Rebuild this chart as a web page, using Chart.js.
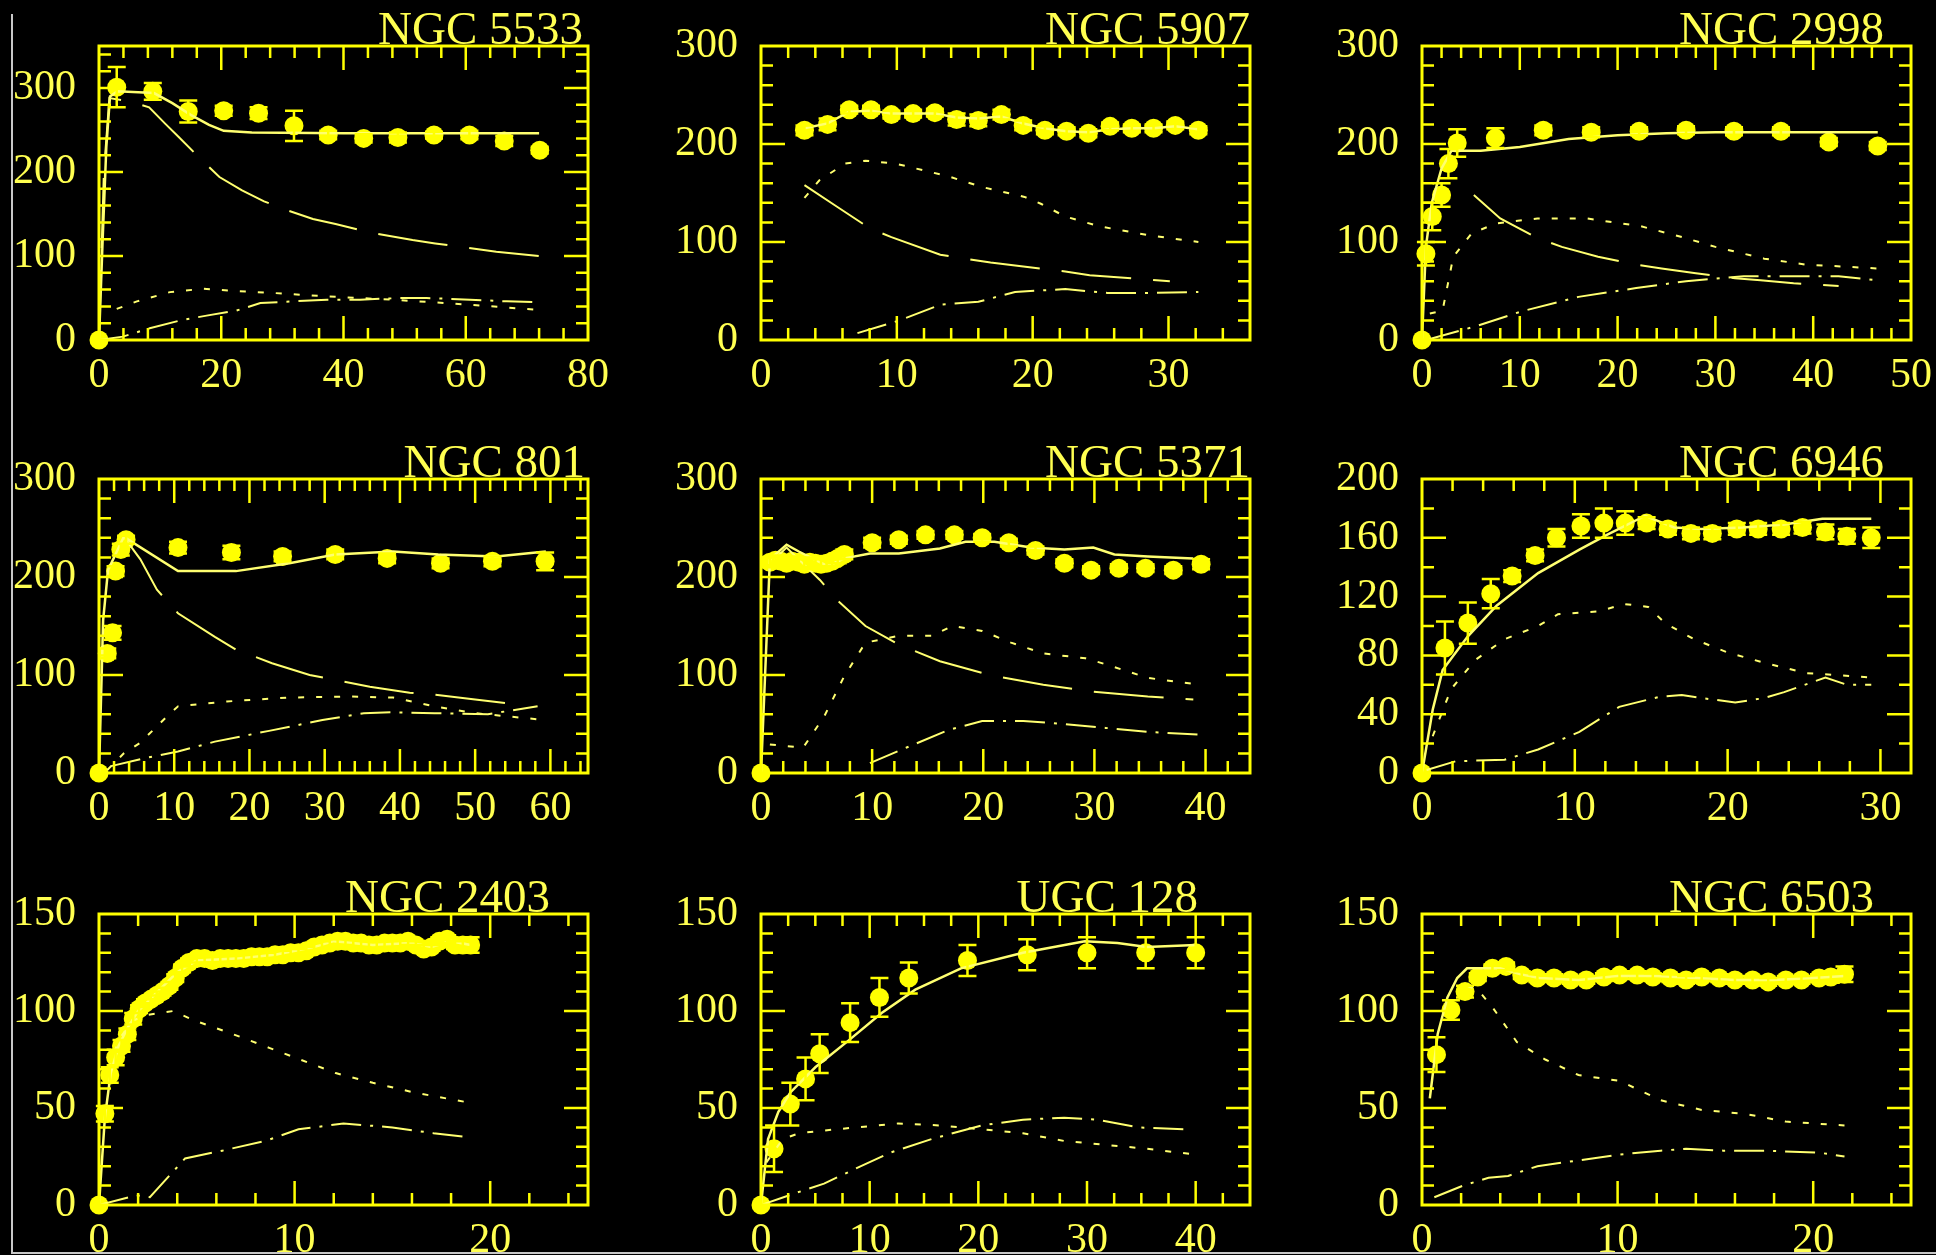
<!DOCTYPE html>
<html>
<head>
<meta charset="utf-8">
<title>Rotation curves</title>
<script src="https://cdn.jsdelivr.net/npm/chart.js@4.4.1/dist/chart.umd.min.js"></script>
<style>
  html, body { margin: 0; padding: 0; background: #000; width: 1936px; height: 1255px; overflow: hidden; }
  .panel { position: absolute; }
  #edge { position: absolute; left: 11px; top: 14px; width: 1925px; height: 1238px;
          border-left: 2px solid #c8c8c8; border-bottom: 2px solid #c8c8c8; }
</style>
</head>
<body>
<div id="edge"></div>
<div id="wrap"></div>
<script>
// ---- tick labels ----
const xTicks80 = [0, 20, 40, 60, 80];
const xTicks30 = [0, 10, 20, 30];
const xTicks50 = [0, 10, 20, 30, 40, 50];
const xTicks60 = [0, 10, 20, 30, 40, 50, 60];
const xTicks40 = [0, 10, 20, 30, 40];
const xTicks20 = [0, 10, 20];
const yTicks300 = [0, 100, 200, 300];
const yTicks200 = [0, 40, 80, 120, 160, 200];
const yTicks150 = [0, 50, 100, 150];

// ---- NGC 5533 ----
const r5533 = [0, 2.9, 8.8, 14.6, 20.4, 26.1, 31.9, 37.5, 43.3, 48.9, 54.8, 60.6, 66.3, 72.1];
const v5533 = [0, 301, 296, 272, 273, 270, 255, 244, 240, 241, 244, 244, 237, 226];
const e5533 = [0, 24, 10, 13, 6, 7, 18, 5, 5, 6, 4, 5, 6, 4];
const fit5533R = [0, 0.6, 1.2, 1.8, 3, 9, 12, 15, 18, 20.4, 25, 40, 55, 72];
const fit5533V = [0, 120, 230, 290, 296, 294, 282, 268, 256, 249, 247, 246, 246, 246];
const bul5533R = [0, 0.8, 1.7, 5, 8.2, 10.9, 13, 16, 19.7, 23.4, 27, 31, 35, 38.7, 45, 51.3, 55, 60, 65, 72];
const bul5533V = [0, 200, 288, 284, 277, 257, 242, 220, 194, 178, 165, 154, 144, 138, 127, 119, 115, 110, 105, 100];
const disk5533R = [2.9, 6.2, 11.6, 17, 23, 28.5, 37, 48, 60.7, 71.6];
const disk5533V = [37, 46, 57, 61, 58, 56, 52, 48, 42, 36];
const gas5533R = [0, 3.9, 8.3, 13.7, 17.6, 22.5, 26.4, 31.8, 37.3, 42.7, 49.3, 53.6, 60.7, 66.7, 72];
const gas5533V = [0, 4, 14, 24, 29, 35, 44, 46, 48, 48, 50, 50, 48, 46, 45];

// ---- NGC 5907 ----
const r5907 = [3.2, 4.9, 6.5, 8.1, 9.6, 11.2, 12.8, 14.4, 16.0, 17.7, 19.3, 20.9, 22.5, 24.1, 25.7, 27.3, 28.9, 30.5, 32.2];
const v5907 = [214, 220, 235, 235, 230, 231, 232, 225, 224, 230, 219, 214, 213, 211, 218, 216, 216, 219, 214];
const e5907 = [5, 6, 4, 4, 4, 4, 4, 6, 6, 5, 5, 4, 4, 4, 4, 4, 4, 4, 4];
const fit5907R = [3.2, 4.9, 6.5, 8.1, 9.6, 11.2, 12.8, 14.4, 16.0, 17.7, 19.3, 20.9, 22.5, 24.1, 25.7, 27.3, 28.9, 30.5, 32.2];
const fit5907V = [216, 221, 233, 234, 231, 231, 231, 227, 226, 228, 221, 216, 213, 212, 215, 216, 216, 218, 215];
const bul5907R = [3.2, 5.6, 8.0, 9.6, 13.2, 16.9, 22.4, 24.2, 30.1];
const bul5907V = [158, 136, 114, 105, 87, 79, 70, 66, 60];
const disk5907R = [3.2, 4.3, 6.2, 7.7, 9.9, 11.4, 13.8, 16.3, 19.4, 20.6, 22.4, 24.9, 28.5, 32.2];
const disk5907V = [145, 163, 180, 183, 180, 175, 167, 156, 146, 139, 126, 116, 107, 100];
const gas5907R = [7.1, 10.2, 13.2, 16.0, 18.7, 22.4, 25.5, 28.5, 32.2];
const gas5907V = [7, 20, 36, 39, 49, 52, 48, 48, 49];

// ---- NGC 2998 ----
const r2998 = [0, 0.4, 1.05, 2.0, 2.7, 3.6, 7.5, 12.4, 17.3, 22.2, 27.0, 31.9, 36.7, 41.6, 46.6];
const v2998 = [0, 88, 126, 148, 180, 201, 206, 214, 212, 213, 214, 213, 213, 202, 198];
const e2998 = [0, 12, 14, 12, 15, 14, 10, 5, 5, 4, 4, 4, 4, 4, 4];
const fit2998R = [0, 0.4, 1, 2, 3, 4, 6, 10, 15, 20, 25, 30, 40, 46.6];
const fit2998V = [0, 95, 140, 175, 193, 193, 193, 197, 205, 209, 211, 212, 212, 212];
const bul2998R = [5.3, 8, 11.8, 14.3, 18, 21.9, 24.5, 28, 32, 34.6, 38, 42.6];
const bul2998V = [148, 124, 104, 95, 85, 77, 73, 68, 63, 61, 58, 55];
const disk2998R = [0.8, 2.1, 3.2, 5.1, 7.6, 11.8, 16.9, 22.4, 26.6, 30, 35, 39.2, 46.6];
const disk2998V = [27, 30, 85, 109, 119, 124, 124, 116, 105, 95, 83, 77, 73];
const gas2998R = [0.8, 5.5, 10.1, 16, 21.9, 27, 32.9, 37.1, 42.6, 46.6];
const gas2998V = [1, 14, 29, 44, 53, 60, 65, 65, 65, 61];

// ---- NGC 801 ----
const r801 = [0, 1.1, 1.8, 2.2, 2.9, 3.6, 10.5, 17.6, 24.4, 31.4, 38.3, 45.4, 52.3, 59.3];
const v801 = [0, 122, 143, 206, 228, 238, 230, 225, 221, 223, 219, 214, 216, 216];
const e801 = [0, 5, 7, 5, 6, 4, 6, 7, 5, 5, 5, 5, 5, 9];
const fit801R = [0, 0.55, 1.2, 3.3, 10.5, 18.2, 25.3, 31.4, 39.1, 45.1, 52.8, 59.4];
const fit801V = [0, 156, 207, 241, 206, 206, 214, 223, 226, 223, 221, 226];
const bul801R = [3.3, 5.5, 7.7, 10.5, 15.4, 18.2, 23, 28, 30.8, 36, 41.3, 44.6, 50, 54.5];
const bul801V = [241, 218, 187, 163, 139, 126, 112, 100, 96, 88, 82, 80, 75, 71];
const disk801R = [1.1, 3.3, 5.5, 8.8, 10.5, 17, 25.3, 33.6, 39.1, 44.6, 50, 59.4];
const disk801V = [3, 20, 31, 56, 68, 73, 77, 78, 77, 68, 61, 54];
const gas801R = [1.6, 6, 10.5, 15.4, 22.6, 29.7, 35.2, 39.1, 44.6, 51.7, 58.3];
const gas801V = [7, 15, 22, 32, 43, 54, 61, 62, 61, 60, 68];

// ---- NGC 5371 ----
const r5371 = [0, 0.8, 1.3, 1.8, 2.3, 2.8, 3.4, 3.9, 4.4, 4.9, 5.4, 5.9, 6.4, 6.9, 7.5, 10, 12.4, 14.8, 17.4, 19.9, 22.3, 24.7, 27.3, 29.7, 32.2, 34.6, 37.1, 39.6];
const v5371 = [0, 215, 217, 216, 214, 216, 215, 213, 215, 214, 213, 214, 216, 219, 223, 235, 238, 243, 243, 240, 235, 227, 214, 207, 209, 209, 207, 213];
const e5371 = [0, 5, 5, 5, 5, 5, 5, 5, 5, 5, 5, 5, 5, 5, 5, 5, 4, 4, 4, 4, 4, 4, 4, 4, 4, 4, 4, 5];
const fit5371R = [0, 0.8, 2.3, 3.4, 6, 7.5, 9.8, 12.4, 16.1, 18.4, 21, 24.3, 27.3, 29.9, 31.8, 34.8, 38.9];
const fit5371V = [0, 218, 233, 226, 211, 219, 224, 224, 229, 236, 236, 230, 228, 230, 223, 221, 219];
const bul5371R = [1.2, 2.3, 5.3, 6.8, 9.4, 12.4, 16.1, 20.6, 25.4, 29.9, 34.8, 38.9];
const bul5371V = [218, 230, 197, 177, 150, 131, 114, 100, 90, 83, 78, 75];
const disk5371R = [0.8, 3.8, 5.7, 7.5, 9.4, 12.4, 15.4, 17.2, 19.9, 22.5, 25.4, 29.2, 31, 34.8, 39.6];
const disk5371V = [29, 26, 58, 99, 133, 140, 140, 150, 145, 133, 122, 117, 111, 97, 90];
const gas5371R = [9.8, 13.1, 16.9, 19.9, 23.6, 27.3, 31, 34.8, 39.6];
const gas5371V = [10, 26, 44, 53, 53, 50, 46, 42, 39];

// ---- NGC 6946 ----
const r6946 = [0, 1.5, 3.0, 4.5, 5.9, 7.4, 8.8, 10.4, 11.9, 13.3, 14.7, 16.1, 17.6, 19, 20.6, 22, 23.5, 24.9, 26.4, 27.8, 29.4];
const v6946 = [0, 85, 102, 122, 134, 148, 160, 168, 170, 170, 170, 166, 163, 163, 166, 166, 166, 167, 164, 161, 160];
const e6946 = [0, 18, 14, 10, 4, 4, 6, 8, 10, 8, 4, 4, 4, 4, 4, 4, 4, 4, 5, 5, 7];
const fit6946R = [0, 0.7, 1.35, 3, 4.9, 7.6, 10.3, 12.1, 14.6, 16.5, 18.3, 21, 23.7, 26.2, 29.4];
const fit6946V = [0, 43, 70, 93, 114, 136, 152, 162, 175, 167, 166, 167, 169, 173, 173];
const disk6946R = [0.7, 1.9, 3.5, 5.4, 7.6, 8.9, 11.6, 13.2, 14.8, 15.9, 17.8, 20, 22.4, 25.1, 29.4];
const disk6946V = [25, 57, 77, 91, 100, 108, 110, 115, 113, 102, 91, 82, 75, 68, 65];
const gas6946R = [0.3, 2.2, 5.4, 7.6, 10.3, 12.9, 15.6, 17, 18.3, 20.5, 22.4, 23.7, 26.4, 27.8, 29.4];
const gas6946V = [2, 8, 9, 16, 28, 45, 52, 53, 51, 48, 51, 55, 65, 60, 60];

// ---- NGC 2403 ----
const r2403 = [0, 0.3, 0.55, 0.85, 1.15, 1.45, 1.75, 2.05, 2.35, 2.65, 2.95, 3.25, 3.6, 3.9, 4.25, 4.6, 5.0, 5.4, 5.8, 6.2,
               6.6, 7.0, 7.4, 7.8, 8.2, 8.6, 9.0, 9.4, 9.8, 10.2, 10.6, 11.0, 11.4, 11.8, 12.2, 12.6, 13.0, 13.4, 13.8, 14.2,
               14.6, 15.0, 15.4, 15.8, 16.2, 16.6, 17.0, 17.4, 17.8, 18.2, 18.6, 19.0];
const v2403 = [0, 47, 67, 76, 82, 88, 96, 101, 104, 106, 108, 110, 113, 117, 122, 125, 127, 127, 126, 127,
               127, 127, 127, 128, 128, 128, 129, 129, 130, 130, 131, 133, 134, 135, 136, 136, 135, 135, 134, 134,
               135, 135, 135, 136, 134, 132, 133, 136, 137, 134, 134, 134];
const e2403 = [0, 4, 4, 4, 3, 3, 3, 2, 2, 2, 2, 2, 2, 2, 2, 2, 2, 2, 2, 2,
               2, 2, 2, 2, 2, 2, 2, 2, 2, 2, 2, 2, 2, 2, 2, 2, 2, 2, 2, 2,
               2, 2, 2, 2, 2, 2, 2, 2, 2, 2, 3, 4];
const fit2403R = [0, 0.3, 0.6, 1, 1.5, 2, 3, 4, 5, 7, 9, 11, 12, 14, 16, 17, 18, 19];
const fit2403V = [0, 45, 68, 82, 92, 100, 110, 120, 126, 127, 129, 133, 136, 134, 135, 133, 136, 134];
const disk2403R = [0.5, 1, 1.7, 2.5, 3.8, 4.9, 6.6, 8.7, 10.8, 12.1, 14, 16.1, 18.8];
const disk2403V = [70, 85, 95, 98, 100, 95, 89, 81, 73, 68, 63, 58, 53];
const gas2403R = [0, 1.9, 2.6, 4.4, 6.3, 8.5, 10.2, 12.5, 15, 17.1, 18.8];
const gas2403V = [0, 5, 4, 24, 28, 33, 39, 42, 40, 37, 35];

// ---- UGC 128 ----
const r128 = [0, 1.2, 2.7, 4.1, 5.4, 8.2, 10.9, 13.6, 19, 24.5, 30, 35.4, 40];
const v128 = [0, 29, 52, 65, 78, 94, 107, 117, 126, 129, 130, 130, 130];
const e128 = [0, 12, 11, 11, 10, 10, 10, 8, 8, 8, 8, 8, 8];
const fit128R = [0, 0.65, 1.6, 2.7, 5, 8.1, 11.1, 14.2, 18.4, 24.1, 29.8, 32.8, 35.5, 40];
const fit128V = [0, 34, 48, 58, 71, 85, 99, 111, 122, 130, 136, 135, 133, 134];
const disk128R = [0.5, 2, 3.5, 6.9, 12.6, 16.5, 20.3, 24.1, 27.9, 31.7, 35.5, 40];
const disk128V = [22, 34, 37, 39, 42, 41, 39, 37, 33, 31, 29, 26];
const gas128R = [0, 3.1, 5.8, 8.8, 11.9, 15.7, 20.3, 24.1, 27.9, 30.9, 34.7, 39.3];
const gas128V = [0, 6, 11, 19, 27, 34, 41, 44, 45, 44, 40, 39];

// ---- NGC 6503 ----
const r6503 = [0.74, 1.48, 2.2, 2.85, 3.6, 4.3, 5.1, 5.9, 6.75, 7.6, 8.4, 9.3, 10.1, 11, 11.8, 12.7, 13.5, 14.3, 15.2, 16, 16.9, 17.7, 18.6, 19.4, 20.3, 20.9, 21.6];
const v6503 = [77.5, 100.5, 110, 117.5, 122, 123, 118.5, 117, 117, 116, 116, 117.5, 118.5, 118.5, 117.5, 117, 116, 117.5, 117, 116, 116, 115, 116, 116, 117, 117.5, 119];
const e6503 = [9, 5, 3, 2, 2, 2, 2, 2, 2, 2, 2, 2, 2, 2, 2, 2, 2, 2, 2, 2, 2, 2, 2, 2, 2, 3, 4];
const fit6503R = [0.4, 0.8, 1.3, 1.8, 2.3, 3, 4, 5, 6, 8, 10, 12, 14, 16, 18, 20, 21.6];
const fit6503V = [55, 88, 107, 117, 122, 122, 122, 119, 117, 116, 118, 118, 117, 116, 116, 117, 118];
const disk6503R = [2.3, 2.85, 3.6, 4.85, 6.3, 8, 10.1, 12.2, 14.3, 16.5, 18.6, 21.6];
const disk6503V = [113, 111, 102, 84, 75, 67, 64, 54, 49, 47, 43, 41];
const gas6503R = [0.63, 2.1, 3.4, 4.4, 5.9, 8, 10.1, 12.2, 13.5, 15.4, 17.5, 20.3, 21.6];
const gas6503V = [4, 10, 14, 15, 20, 23, 26, 28, 29, 28, 28, 27, 25];

// ---- look ----
const YELLOW = '#ffff00';
const LINE = '#ffff70';
const TEXT = '#ffff50';
const FONT = 'Liberation Serif';

const AXIS_W = 95, AXIS_H = 70, PAD_T = 60, PAD_R = 50;
const BOX_W = 489;
const colLeft = [99, 761, 1422];
const rowTop = [46, 479, 914];
const rowH = [294, 294, 291];

const panels = [
  { name: 'NGC 5533', obs: [r5533, v5533, e5533], fit: [fit5533R, fit5533V], bulge: [bul5533R, bul5533V], disk: [disk5533R, disk5533V], gas: [gas5533R, gas5533V],
    xMax: 80, xTicks: xTicks80, xMinor: 4, yMax: 350, yTicks: yTicks300, yMinor: 20, row: 0, col: 0, inset: 5 },
  { name: 'NGC 5907', obs: [r5907, v5907, e5907], fit: [fit5907R, fit5907V], bulge: [bul5907R, bul5907V], disk: [disk5907R, disk5907V], gas: [gas5907R, gas5907V],
    xMax: 36, xTicks: xTicks30, xMinor: 2, yMax: 300, yTicks: yTicks300, yMinor: 20, row: 0, col: 1, inset: 0 },
  { name: 'NGC 2998', obs: [r2998, v2998, e2998], fit: [fit2998R, fit2998V], bulge: [bul2998R, bul2998V], disk: [disk2998R, disk2998V], gas: [gas2998R, gas2998V],
    xMax: 50, xTicks: xTicks50, xMinor: 2, yMax: 300, yTicks: yTicks300, yMinor: 20, row: 0, col: 2, inset: 27 },
  { name: 'NGC 801', obs: [r801, v801, e801], fit: [fit801R, fit801V], bulge: [bul801R, bul801V], disk: [disk801R, disk801V], gas: [gas801R, gas801V],
    xMax: 65, xTicks: xTicks60, xMinor: 2, yMax: 300, yTicks: yTicks300, yMinor: 20, row: 1, col: 0, inset: 3 },
  { name: 'NGC 5371', obs: [r5371, v5371, e5371], fit: [fit5371R, fit5371V], bulge: [bul5371R, bul5371V], disk: [disk5371R, disk5371V], gas: [gas5371R, gas5371V],
    xMax: 44, xTicks: xTicks40, xMinor: 2, yMax: 300, yTicks: yTicks300, yMinor: 20, row: 1, col: 1, inset: 0 },
  { name: 'NGC 6946', obs: [r6946, v6946, e6946], fit: [fit6946R, fit6946V], bulge: null, disk: [disk6946R, disk6946V], gas: [gas6946R, gas6946V],
    xMax: 32, xTicks: xTicks30, xMinor: 2, yMax: 200, yTicks: yTicks200, yMinor: 20, row: 1, col: 2, inset: 27 },
  { name: 'NGC 2403', obs: [r2403, v2403, e2403], fit: [fit2403R, fit2403V], bulge: null, disk: [disk2403R, disk2403V], gas: [gas2403R, gas2403V],
    xMax: 25, xTicks: xTicks20, xMinor: 2, yMax: 150, yTicks: yTicks150, yMinor: 10, row: 2, col: 0, inset: 38 },
  { name: 'UGC 128', obs: [r128, v128, e128], fit: [fit128R, fit128V], bulge: null, disk: [disk128R, disk128V], gas: [gas128R, gas128V],
    xMax: 45, xTicks: xTicks40, xMinor: 2.5, yMax: 150, yTicks: yTicks150, yMinor: 10, row: 2, col: 1, inset: 52 },
  { name: 'NGC 6503', obs: [r6503, v6503, e6503], fit: [fit6503R, fit6503V], bulge: null, disk: [disk6503R, disk6503V], gas: [gas6503R, gas6503V],
    xMax: 25, xTicks: xTicks20, xMinor: 2, yMax: 150, yTicks: yTicks150, yMinor: 10, row: 2, col: 2, inset: 37 }
];

function toXY(xs, ys) {
  return xs.map((x, i) => ({ x: x, y: ys[i] }));
}

function curve(pair, dash, width) {
  return {
    data: toXY(pair[0], pair[1]),
    showLine: true,
    borderColor: LINE,
    borderWidth: width,
    borderDash: dash,
    pointRadius: 0,
    tension: 0
  };
}

function isMajor(v, step) {
  const q = v / step;
  return Math.abs(q - Math.round(q)) < 1e-6;
}

// frame with ticks on all four sides pointing inward, error bars and the name
const framePlugin = {
  id: 'frame',
  afterDatasetsDraw(chart, args, opts) {
    const { ctx, chartArea: a, scales } = chart;
    const x = scales.x, y = scales.y;
    ctx.save();
    ctx.strokeStyle = YELLOW;
    ctx.lineCap = 'butt';

    // error bars
    const obs = opts.obs;
    ctx.lineWidth = 2.5;
    ctx.beginPath();
    obs[0].forEach((r, i) => {
      const err = obs[2][i];
      if (!err) return;
      const px = x.getPixelForValue(r);
      const top = y.getPixelForValue(obs[1][i] + err);
      const bot = y.getPixelForValue(obs[1][i] - err);
      ctx.moveTo(px, top); ctx.lineTo(px, bot);
      ctx.moveTo(px - 9, top); ctx.lineTo(px + 9, top);
      ctx.moveTo(px - 9, bot); ctx.lineTo(px + 9, bot);
    });
    ctx.stroke();

    // ticks
    ctx.lineWidth = 2.5;
    ctx.beginPath();
    const xMajor = opts.xTicks[1] - opts.xTicks[0];
    const nx = Math.round((x.max - x.min) / opts.xMinor);
    for (let i = 1; i < nx + 1; i++) {
      const v = x.min + i * opts.xMinor;
      if (v >= x.max - 1e-6) break;
      const px = x.getPixelForValue(v);
      const len = isMajor(v, xMajor) ? 24 : 12;
      ctx.moveTo(px, a.bottom); ctx.lineTo(px, a.bottom - len);
      ctx.moveTo(px, a.top); ctx.lineTo(px, a.top + len);
    }
    const yMajor = opts.yTicks[1] - opts.yTicks[0];
    const ny = Math.round((y.max - y.min) / opts.yMinor);
    for (let i = 1; i < ny + 1; i++) {
      const v = y.min + i * opts.yMinor;
      if (v >= y.max - 1e-6) break;
      const py = y.getPixelForValue(v);
      const len = isMajor(v, yMajor) ? 24 : 12;
      ctx.moveTo(a.left, py); ctx.lineTo(a.left + len, py);
      ctx.moveTo(a.right, py); ctx.lineTo(a.right - len, py);
    }
    ctx.stroke();

    ctx.lineWidth = 3;
    ctx.strokeRect(a.left, a.top, a.right - a.left, a.bottom - a.top);

    // galaxy name
    ctx.fillStyle = TEXT;
    ctx.font = '47px "' + FONT + '"';
    ctx.textAlign = 'right';
    ctx.textBaseline = 'alphabetic';
    ctx.fillText(opts.name, a.right - opts.inset, a.top - 2);
    ctx.restore();
  }
};

const wrap = document.getElementById('wrap');

panels.forEach(p => {
  const h = rowH[p.row];
  const div = document.createElement('div');
  div.className = 'panel';
  div.style.left = (colLeft[p.col] - AXIS_W) + 'px';
  div.style.top = (rowTop[p.row] - PAD_T) + 'px';
  const canvas = document.createElement('canvas');
  canvas.width = AXIS_W + BOX_W + PAD_R;
  canvas.height = PAD_T + h + AXIS_H;
  div.appendChild(canvas);
  wrap.appendChild(div);

  const datasets = [];
  if (p.bulge) datasets.push(curve(p.bulge, [70, 22], 2));
  datasets.push(curve(p.disk, [6, 12], 2));
  datasets.push(curve(p.gas, [30, 9, 3, 9], 2));
  datasets.push(curve(p.fit, [], 2.5));
  datasets.push({
    data: toXY(p.obs[0], p.obs[1]),
    showLine: false,
    pointRadius: 9.5,
    pointBackgroundColor: YELLOW,
    pointBorderColor: YELLOW,
    pointBorderWidth: 0,
    clip: false
  });

  new Chart(canvas.getContext('2d'), {
    type: 'scatter',
    data: { datasets: datasets },
    options: {
      responsive: false,
      animation: false,
      events: [],
      layout: { padding: { top: PAD_T, right: PAD_R, left: 0, bottom: 0 } },
      plugins: {
        legend: { display: false },
        tooltip: { enabled: false },
        frame: { name: p.name, inset: p.inset, obs: p.obs, xTicks: p.xTicks, yTicks: p.yTicks, xMinor: p.xMinor, yMinor: p.yMinor }
      },
      scales: {
        x: {
          type: 'linear', min: 0, max: p.xMax,
          grid: { display: false }, border: { display: false },
          ticks: { color: TEXT, font: { family: FONT, size: 42 }, padding: 3, maxRotation: 0, autoSkip: false },
          afterBuildTicks: s => { s.ticks = p.xTicks.map(v => ({ value: v })); },
          afterFit: s => { s.height = AXIS_H; s.paddingLeft = 0; s.paddingRight = 0; }
        },
        y: {
          type: 'linear', min: 0, max: p.yMax,
          grid: { display: false }, border: { display: false },
          ticks: { color: TEXT, font: { family: FONT, size: 42 }, padding: 15, autoSkip: false },
          afterBuildTicks: s => { s.ticks = p.yTicks.map(v => ({ value: v })); },
          afterFit: s => { s.width = AXIS_W; s.paddingTop = 0; s.paddingBottom = 0; }
        }
      }
    },
    plugins: [framePlugin]
  });
});
</script>
</body>
</html>
